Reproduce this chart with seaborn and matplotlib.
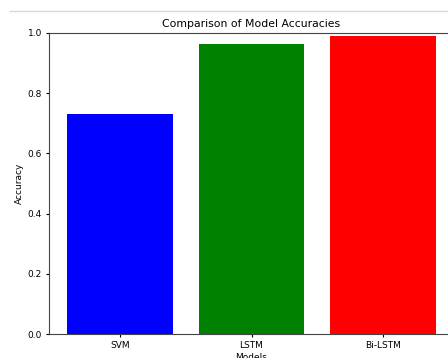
import matplotlib
matplotlib.use("Agg")
import matplotlib.pyplot as plt
import seaborn as sns
from matplotlib.lines import Line2D

# 数据
models = ['SVM', 'LSTM', 'Bi-LSTM']
accuracies = [0.73, 0.962, 0.99]
bar_colors = ['blue', 'green', 'red']

fs = 6.5

fig = plt.figure(figsize=(4.48, 3.58), dpi=100)
# 截图中坐标轴右侧被裁掉，因此 right 超出画布
ax = fig.add_axes([49 / 448, 24 / 358, 405 / 448, 301 / 358])

sns.barplot(x=models, y=accuracies, hue=models, palette=bar_colors,
            saturation=1, legend=False, width=0.8, ax=ax)

ax.set_xlim(-0.54, 2.54)
ax.set_ylim(0, 1.0)
ax.set_title('Comparison of Model Accuracies', fontsize=fs * 1.2, pad=4)
ax.set_xlabel('Models', fontsize=fs, labelpad=2.5)
ax.set_ylabel('Accuracy', fontsize=fs, labelpad=3)
ax.tick_params(labelsize=fs, length=2.5, pad=2.5)
for s in ax.spines.values():
    s.set_color('#444444')

# notebook 单元格顶部的分隔线
fig.add_artist(Line2D([10 / 448, 1], [1 - 11 / 358, 1 - 11 / 358],
                      color='#d9d9d9', lw=1, transform=fig.transFigure))

fig.savefig('out.png', dpi=100)
